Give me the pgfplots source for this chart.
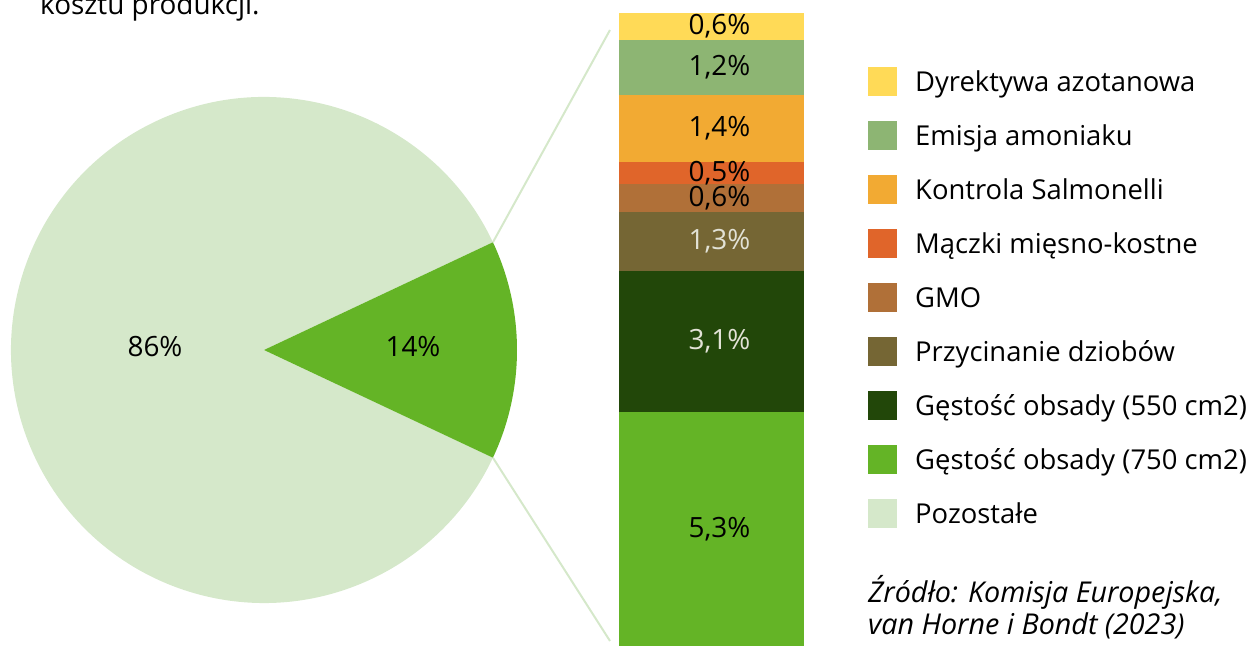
\documentclass[border=0pt]{standalone}
\usepackage{pgfplots}
\pgfplotsset{compat=1.18}
\usepackage{fontspec}
\setmainfont{Open Sans}
\definecolor{cDyr}{HTML}{FFDA57}
\definecolor{cEmi}{HTML}{8DB573}
\definecolor{cSal}{HTML}{F2AA33}
\definecolor{cMac}{HTML}{E0652A}
\definecolor{cGMO}{HTML}{B07038}
\definecolor{cPrz}{HTML}{756634}
\definecolor{cGa}{HTML}{224709}
\definecolor{cGb}{HTML}{64B426}
\definecolor{cPoz}{HTML}{D5E8CA}
\definecolor{lbl}{HTML}{E2E2D6}
\newcommand\bigfont{\fontsize{28}{34}\selectfont}
\newcommand\legfont{\fontsize{27.5}{33}\selectfont}
\newcommand\srcfont{\fontsize{28.8}{34}\selectfont\itshape}
\pgfplotsset{sqlegend/.style={legend image code/.code={\fill[##1] (0bp,-14.5bp) rectangle (29bp,14.5bp);}}}
\def\pieRest{86}
\def\pieShare{14}
\begin{document}
\begin{tikzpicture}[x=1bp,y=1bp]
\node[anchor=base west, inner sep=0pt, font=\bigfont] at (40,631) {kosztu produkcji.};
\pgfmathsetmacro\half{\pieShare*1.8}
% pie
\begin{axis}[at={(264bp,296bp)}, anchor=origin, width=506bp, height=506bp, scale only axis, hide axis, clip=false,
  xmin=-253, xmax=253, ymin=-253, ymax=253]
\fill[cPoz] (axis cs:0,0) -- ++(\half:253bp) arc[start angle=\half, end angle=360-\half, radius=253bp] -- cycle;
\fill[cGb] (axis cs:0,0) -- ++(-\half:253bp) arc[start angle=-\half, end angle=\half, radius=253bp] -- cycle;
\node[font=\bigfont, anchor=base] at (axis cs:-109,-7) {\pieRest\%};
\node[font=\bigfont, anchor=base] at (axis cs:149,-7) {\pieShare\%};
\end{axis}
\draw[cPoz, line width=2bp] ({264+253*cos(\half)},{296+253*sin(\half)}) -- (610,616);
\draw[cPoz, line width=2bp] ({264+253*cos(\half)},{296-253*sin(\half)}) -- (610,5);
% bar of pie
\begin{axis}[at={(619bp,0bp)}, anchor=south west, width=185bp, height=633bp, scale only axis, hide axis, clip=false,
  xmin=-0.5, xmax=0.5, ymin=0, ymax=14.01,
  ybar stacked, bar width=185bp,
  every axis plot post/.append style={draw=none, sqlegend},
  reverse legend,
  legend cell align=left,
  legend style={draw=none, fill=none, inner sep=0pt, at={(axis description cs:1.3459,0.9147)}, anchor=north west,
    row sep=25bp, column sep=18bp, font=\legfont, nodes={inner sep=0pt, text height=20bp, text depth=0pt}},
]
\addplot[fill=cPoz] coordinates {(0,0)};
\addlegendentry{Pozostałe}
\addplot[fill=cGb] coordinates {(0,5.18)};
\addlegendentry{Gęstość obsady (750 cm2)}
\addplot[fill=cGa] coordinates {(0,3.12)};
\addlegendentry{Gęstość obsady (550 cm2)}
\addplot[fill=cPrz] coordinates {(0,1.30)};
\addlegendentry{Przycinanie dziobów}
\addplot[fill=cGMO] coordinates {(0,0.62)};
\addlegendentry{GMO}
\addplot[fill=cMac] coordinates {(0,0.49)};
\addlegendentry{Mączki mięsno-kostne}
\addplot[fill=cSal] coordinates {(0,1.48)};
\addlegendentry{Kontrola Salmonelli}
\addplot[fill=cEmi] coordinates {(0,1.22)};
\addlegendentry{Emisja amoniaku}
\addplot[fill=cDyr] coordinates {(0,0.60)};
\addlegendentry{Dyrektywa azotanowa}
\end{axis}
% segment labels (centres of the stacked segments)
\begin{axis}[at={(619bp,0bp)}, anchor=south west, width=185bp, height=633bp, scale only axis, hide axis, clip=false,
  xmin=-0.5, xmax=0.5, ymin=0, ymax=14.01,
  point meta=explicit symbolic, nodes near coords,
  every node near coord/.append style={font=\bigfont, anchor=center, xshift=8bp}]
\addplot[draw=none, mark=none, every node near coord/.append style={text=black}]
  coordinates {(0,2.59) [5,3\%] (0,9.91) [0,6\%] (0,10.465) [0,5\%] (0,11.45) [1,4\%] (0,12.80) [1,2\%] (0,13.71) [0,6\%]};
\addplot[draw=none, mark=none, every node near coord/.append style={text=lbl}]
  coordinates {(0,6.74) [3,1\%] (0,8.95) [1,3\%]};
\end{axis}
\node[anchor=base west, inner sep=0pt, font=\srcfont] at (868,43) {Źródło: Komisja Europejska,};
\node[anchor=base west, inner sep=0pt, font=\srcfont] at (868,11) {van Horne i Bondt (2023)};
\pgfresetboundingbox
\useasboundingbox (0,0) rectangle (1248,646);
\end{tikzpicture}
\end{document}
